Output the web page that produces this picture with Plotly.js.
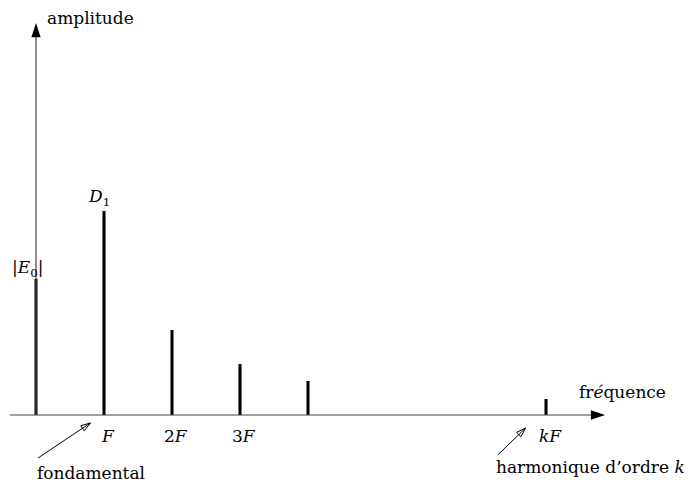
<!DOCTYPE html>
<html>
<head>
<meta charset="utf-8">
<script src="https://cdn.plot.ly/plotly-3.0.1.min.js"></script>
<style>html,body{margin:0;padding:0;background:#fff;}#chart{width:691px;height:484px;}</style>
</head>
<body>
<div id="chart"></div>
<script>
// Spectrum data: frequency in multiples of F, amplitude (arbitrary units)
const frequencies = [0, 1, 2, 3, 4, 7.5];
const amplitudes = [1.36, 2.04, 0.85, 0.51, 0.34, 0.16];
const tickPositions = [1, 2, 3, 7.5];
const tickLabels = ['<i>F</i>', '2<i>F</i>', '3<i>F</i>', '<i>kF</i>'];

const FONT = 'DejaVu Serif';
const FS = 17;

const bars = {
  type: 'bar',
  x: frequencies,
  y: amplitudes,
  width: 0.045,
  marker: {color: '#000', line: {width: 0}},
  hoverinfo: 'skip'
};

function arrowTrace(x0, y0, x1, y1, color, w, size, symbol) {
  return {
    type: 'scatter', mode: 'lines+markers',
    x: [x0, x1], y: [y0, y1],
    line: {color: color, width: w},
    marker: {symbol: ['circle', symbol], size: [0, size], color: '#000', opacity: 1, angleref: 'previous', line: {width: 0, color: '#000'}},
    hoverinfo: 'skip', cliponaxis: false
  };
}

const traces = [
  bars,
  arrowTrace(-0.38, 0, 8.37, 0, '#444', 1.2, 15, 'arrow'),
  arrowTrace(0, 0, 0, 3.92, '#444', 1.2, 15, 'arrow'),
  arrowTrace(0.03, -0.43, 0.80, -0.08, '#000', 1, 10, 'arrow-open'),
  arrowTrace(6.79, -0.40, 7.20, -0.13, '#000', 1, 10, 'arrow-open')
];

const annotations = [];
tickPositions.forEach((p, i) => {
  annotations.push({x: p + 0.06, y: -0.21, xref: 'x', yref: 'y', text: tickLabels[i], showarrow: false,
    font: {family: FONT, size: FS, color: '#000'}});
});
annotations.push({x: 0.13, y: 3.97, xref: 'x', yref: 'y', text: 'amplitude', showarrow: false, xanchor: 'left',
  font: {family: FONT, size: FS, color: '#000'}});
annotations.push({x: -0.12, y: 1.47, xref: 'x', yref: 'y', text: '|<i>E</i><sub>0</sub>|', showarrow: false,
  font: {family: FONT, size: FS, color: '#000'}});
annotations.push({x: frequencies[1] - 0.07, y: 2.18, xref: 'x', yref: 'y', text: '<i>D</i><sub>1</sub>', showarrow: false,
  font: {family: FONT, size: FS, color: '#000'}});
annotations.push({x: 8.62, y: 0.23, xref: 'x', yref: 'y', text: 'fr<i>é</i>quence', showarrow: false,
  font: {family: FONT, size: FS, color: '#000'}});
annotations.push({x: 0.81, y: -0.58, xref: 'x', yref: 'y', text: 'fondamental', showarrow: false,
  font: {family: FONT, size: FS, color: '#000'}});
annotations.push({x: 8.16, y: -0.52, xref: 'x', yref: 'y', text: "harmonique d’ordre <i>k</i>", showarrow: false,
  font: {family: FONT, size: FS, color: '#000'}});

const layout = {
  width: 691, height: 484,
  margin: {l: 0, r: 0, t: 0, b: 0},
  paper_bgcolor: '#fff', plot_bgcolor: '#fff',
  showlegend: false,
  xaxis: {range: [-36/68, 655/68], showgrid: false, zeroline: false, showticklabels: false, ticks: '', showline: false, fixedrange: true},
  yaxis: {range: [-0.69, 4.15], showgrid: false, zeroline: false, showticklabels: false, ticks: '', showline: false, fixedrange: true},
  annotations: annotations
};

Plotly.newPlot('chart', traces, layout, {displayModeBar: false, staticPlot: true});
</script>
</body>
</html>
